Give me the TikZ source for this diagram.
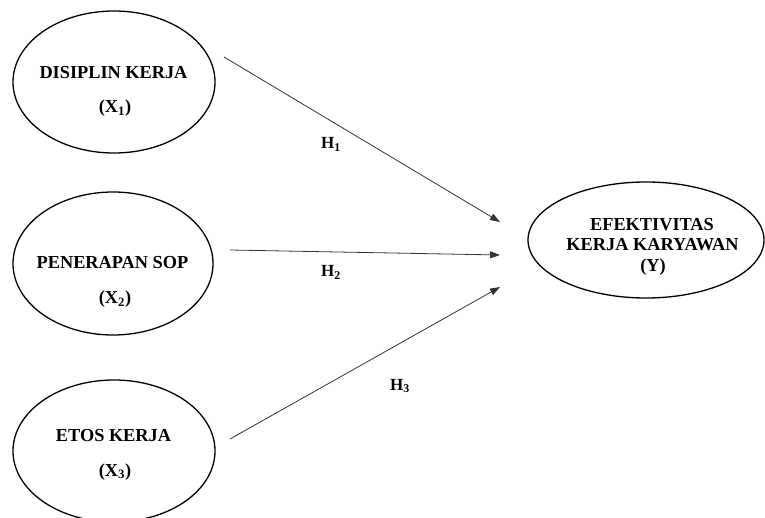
\documentclass[tikz,border=0pt]{standalone}
\usepackage{fontspec}
\setmainfont{Liberation Serif}
\usetikzlibrary{arrows.meta,shapes.geometric}
\begin{document}
\begin{tikzpicture}[x=1pt,y=-1pt,
  oval/.style={draw=black,line width=1.3pt,ellipse,inner sep=0pt},
  lbl/.style={anchor=base,inner sep=0pt,font=\bfseries\fontsize{18.3}{18}\selectfont},
  hlbl/.style={anchor=base,inner sep=0pt,font=\bfseries\fontsize{17}{17}\selectfont},
  conn/.style={draw=black!80,line width=0.8pt,-{Triangle[length=10pt,width=7pt]}}]
\useasboundingbox (0,0) rectangle (765,518);
% ellipses
\node[oval,minimum width=202pt,minimum height=142pt] (e1) at (114,82) {};
\node[oval,minimum width=200pt,minimum height=143pt] (e2) at (113,263.5) {};
\node[oval,minimum width=202pt,minimum height=142pt] (e3) at (114,451) {};
\node[oval,minimum width=236pt,minimum height=116pt] (ey) at (646,240) {};
% texts
\node[lbl] (t1) at (113.5,79) {DISIPLIN KERJA};
\node[lbl] (s1) at (115,113) {(X\textsubscript{1})};
\node[lbl] (t2) at (112.5,269) {PENERAPAN SOP};
\node[lbl] (s2) at (115,304) {(X\textsubscript{2})};
\node[lbl] (t3) at (113.5,441) {ETOS KERJA};
\node[lbl] (s3) at (115,476) {(X\textsubscript{3})};
\node[lbl] (ty1) at (652,231) {EFEKTIVITAS};
\node[lbl] (ty2) at (652.5,251) {KERJA KARYAWAN};
\node[lbl] (ty3) at (653,272) {(Y)};
% connector ends
\coordinate (a1s) at (224,57);
\coordinate (a1e) at (500,222);
\coordinate (a2s) at (230,250);
\coordinate (a2e) at (500,255);
\coordinate (a3s) at (230,439);
\coordinate (a3e) at (500,287);
\draw[conn] (a1s) -- (a1e);
\draw[conn] (a2s) -- (a2e);
\draw[conn] (a3s) -- (a3e);
% hypothesis labels
\node[hlbl] (h1) at (331,149) {H\textsubscript{1}};
\node[hlbl] (h2) at (331,277) {H\textsubscript{2}};
\node[hlbl] (h3) at (400,390) {H\textsubscript{3}};
\end{tikzpicture}
\end{document}
